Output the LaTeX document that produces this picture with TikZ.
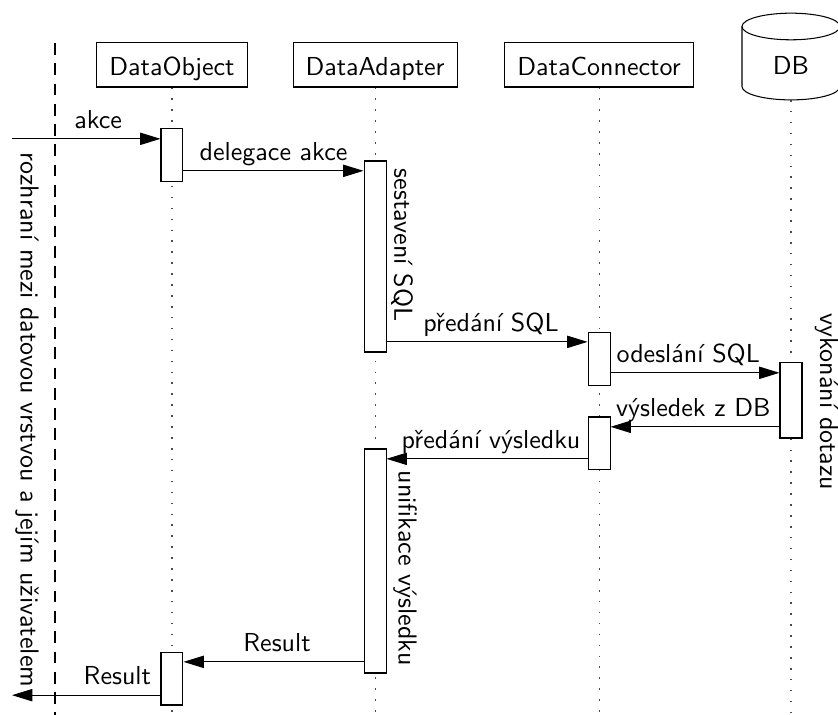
\documentclass[tikz,border=0pt]{standalone}
\usetikzlibrary{arrows.meta}

\tikzset{
  head/.style={draw, font=\sffamily, inner xsep=4.8pt, minimum height=0.595cm, text height=8pt, text depth=0pt},
  act/.style={draw, fill=white, minimum width=0.297cm, inner sep=0pt},
  life/.style={dash pattern=on 0.6pt off 3.6pt, black!70},
  iface/.style={dash pattern=on 4.5pt off 3.3pt, line width=0.9pt},
  msg/.style={-{Triangle[length=7.8pt,width=4.7pt]}},
  lbl/.style={font=\sffamily, above, inner sep=1.8pt, text depth=2pt},
  note/.style={font=\sffamily, rotate=-90}
}

\begin{document}
\begin{tikzpicture}
\useasboundingbox (0,0) rectangle (11.324,-9.662);

% heads
\node[head] (obj) at (2.324,-0.878) {DataObject};
\node[head] (adp) at (5.068,-0.878) {DataAdapter};
\node[head] (con) at (8.095,-0.878) {DataConnector};
\draw (10.027,-0.358) -- (10.027,-1.17) arc[start angle=180, end angle=360, x radius=0.662, y radius=0.18] -- (11.351,-0.358);
\draw (10.689,-0.358) ellipse [x radius=0.662, y radius=0.18];
\node[font=\sffamily] (db) at (10.689,-0.89) {DB};
\coordinate (dbfoot) at (10.689,-1.351);
\coordinate (bottom) at (0,-9.62);
\coordinate (caller) at (0.162,0);

% lifelines
\draw[life] (obj) -- (obj |- bottom);
\draw[life] (adp) -- (adp |- bottom);
\draw[life] (con) -- (con |- bottom);
\draw[life] (dbfoot) -- (dbfoot |- bottom);
\draw[iface] (0.743,-0.581) -- (0.743,-9.662);

% activations
\node[act, minimum height=0.716cm] (o1) at (obj |- 0,-2.101) {};
\node[act, minimum height=2.581cm] (a1) at (adp |- 0,-3.466) {};
\node[act, minimum height=0.716cm] (c1) at (con |- 0,-4.845) {};
\node[act, minimum height=1.014cm] (d1) at (db |- 0,-5.412) {};
\node[act, minimum height=0.716cm] (c2) at (con |- 0,-5.993) {};
\node[act, minimum height=3.027cm] (a2) at (adp |- 0,-7.581) {};
\node[act, minimum height=0.716cm] (o2) at (obj |- 0,-9.169) {};
\foreach \n in {o1,a1,c1,d1,c2,a2,o2}
  \coordinate (\n in) at ([yshift=-0.14cm]\n.north);
\coordinate (o2out) at ([yshift=0.14cm]o2.south west);

% messages
\draw[msg] (caller |- o1in) -- (o1.west |- o1in) node[lbl, pos=0.58] {akce};
\draw[msg] (o1.east |- a1in) -- (a1.west |- a1in) node[lbl, midway] {delegace akce};
\draw[msg] (a1.east |- c1in) -- (c1.west |- c1in) node[lbl, pos=0.52] {předání SQL};
\draw[msg] (c1.east |- d1in) -- (d1.west |- d1in) node[lbl, pos=0.46] {odeslání SQL};
\draw[msg] (d1.west |- c2in) -- (c2.east |- c2in) node[lbl, pos=0.51] {výsledek z DB};
\draw[msg] (c2.west |- a2in) -- (a2.east |- a2in) node[lbl, pos=0.48] {předání výsledku};
\draw[msg] (a2.west |- o2in) -- (o2.east |- o2in) node[lbl, pos=0.48] {Result};
\draw[msg] (o2out) -- (caller |- o2out) node[lbl, pos=0.29] {Result};

% notes
\node[note] (sql) at (5.432,-3.311) {sestavení SQL};
\node[note] (query) at (11.17,-5.432) {vykonání dotazu};
\node[note] (unif) at (5.473,-7.68) {unifikace výsledku};
\node[note] (user) at (0.365,-5.676) {rozhraní mezi datovou vrstvou a jejím uživatelem};
\end{tikzpicture}
\end{document}
